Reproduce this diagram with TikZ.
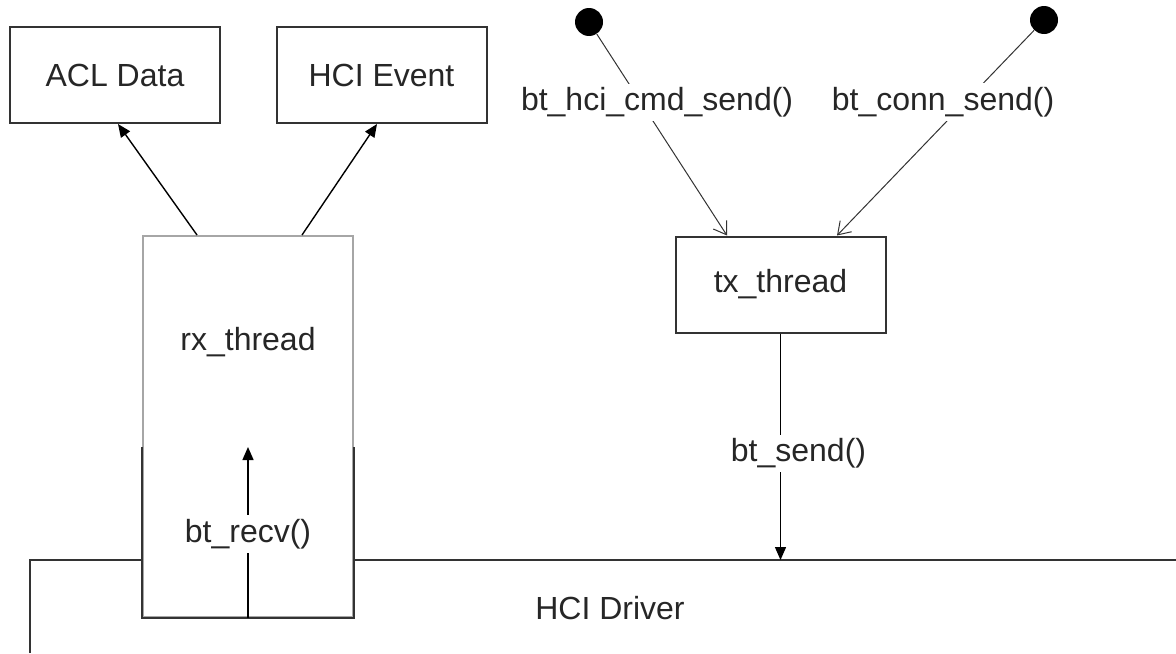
\documentclass[tikz,border=0pt]{standalone}
\usepackage{fontspec}
\setmainfont{Liberation Sans}
\usetikzlibrary{positioning,arrows.meta}
\tikzset{
  >={Triangle[length=6.5pt,width=5.5pt]},
  txt/.style  ={font=\fontsize{16}{19}\selectfont, text=black!85},
  blk/.style  ={txt, draw=black!80, line width=1pt, minimum width=105pt, minimum height=48pt},
  edge/.style ={draw=black!80, line width=1pt},
  flow/.style ={line width=0.7pt, ->},
  call/.style ={line width=0.5pt, draw=black!80, -{Straight Barb[length=6pt,width=8pt]}},
  lbl/.style  ={txt, fill=white, inner sep=2pt},
  dot/.style  ={circle, fill=black, inner sep=0pt, minimum size=14pt},
}

\begin{document}
\begin{tikzpicture}[x=0.5pt, y=-0.5pt]
  \useasboundingbox (0,0) rectangle (1176,653);

  % ---------- HCI driver (runs off the right and bottom) ----------
  \coordinate (drvtl) at (30,560);
  \draw[edge] (30,653) -- (drvtl) -- (1176,560);
  \node[txt] (drv) at (610,608) {HCI Driver};

  % ---------- rx side ----------
  \coordinate (rxcut) at (0,447);
  \node[blk, fill=white, draw=gray!70, minimum height=190.5pt] (rx) at (248,426.5) {};
  % lower part of the thread box is drawn solid
  \draw[edge] (rx.west |- rxcut) -- (rx.south west) -- (rx.south east) -- (rx.east |- rxcut);
  \node[txt] (rxname) at (248,342) {rx\_thread};

  \node[blk] (acl) at (115,75) {ACL Data};
  \node[blk] (evt) at (381.5,75) {HCI Event};

  \draw[flow] ([xshift=-25.5pt]rx.north) -- ([xshift=1.5pt]acl.south);
  \draw[flow] ([xshift=27pt]rx.north) -- ([xshift=-2.25pt]evt.south);

  \draw[flow] (rx.south) -- (rx.center |- rxcut) node[lbl, pos=0.49] {bt\_recv()};

  % ---------- tx side ----------
  \node[blk] (tx) at (780.5,284.5) {tx\_thread};
  \node[dot] (hcicmd) at (589,22) {};
  \node[dot] (conn) at (1044,20) {};

  \draw[call] (hcicmd) -- ([xshift=-26.75pt]tx.north)
    node[lbl, pos=0.34, xshift=8pt] {bt\_hci\_cmd\_send()};
  \draw[call] (conn) -- ([xshift=28.25pt]tx.north)
    node[lbl, pos=0.35, xshift=-11pt] {bt\_conn\_send()};

  \coordinate (txdrv) at (tx.south |- drvtl);
  \draw[flow] (tx) -- (txdrv) node[lbl, pos=0.53, xshift=9pt] {bt\_send()};
\end{tikzpicture}
\end{document}
